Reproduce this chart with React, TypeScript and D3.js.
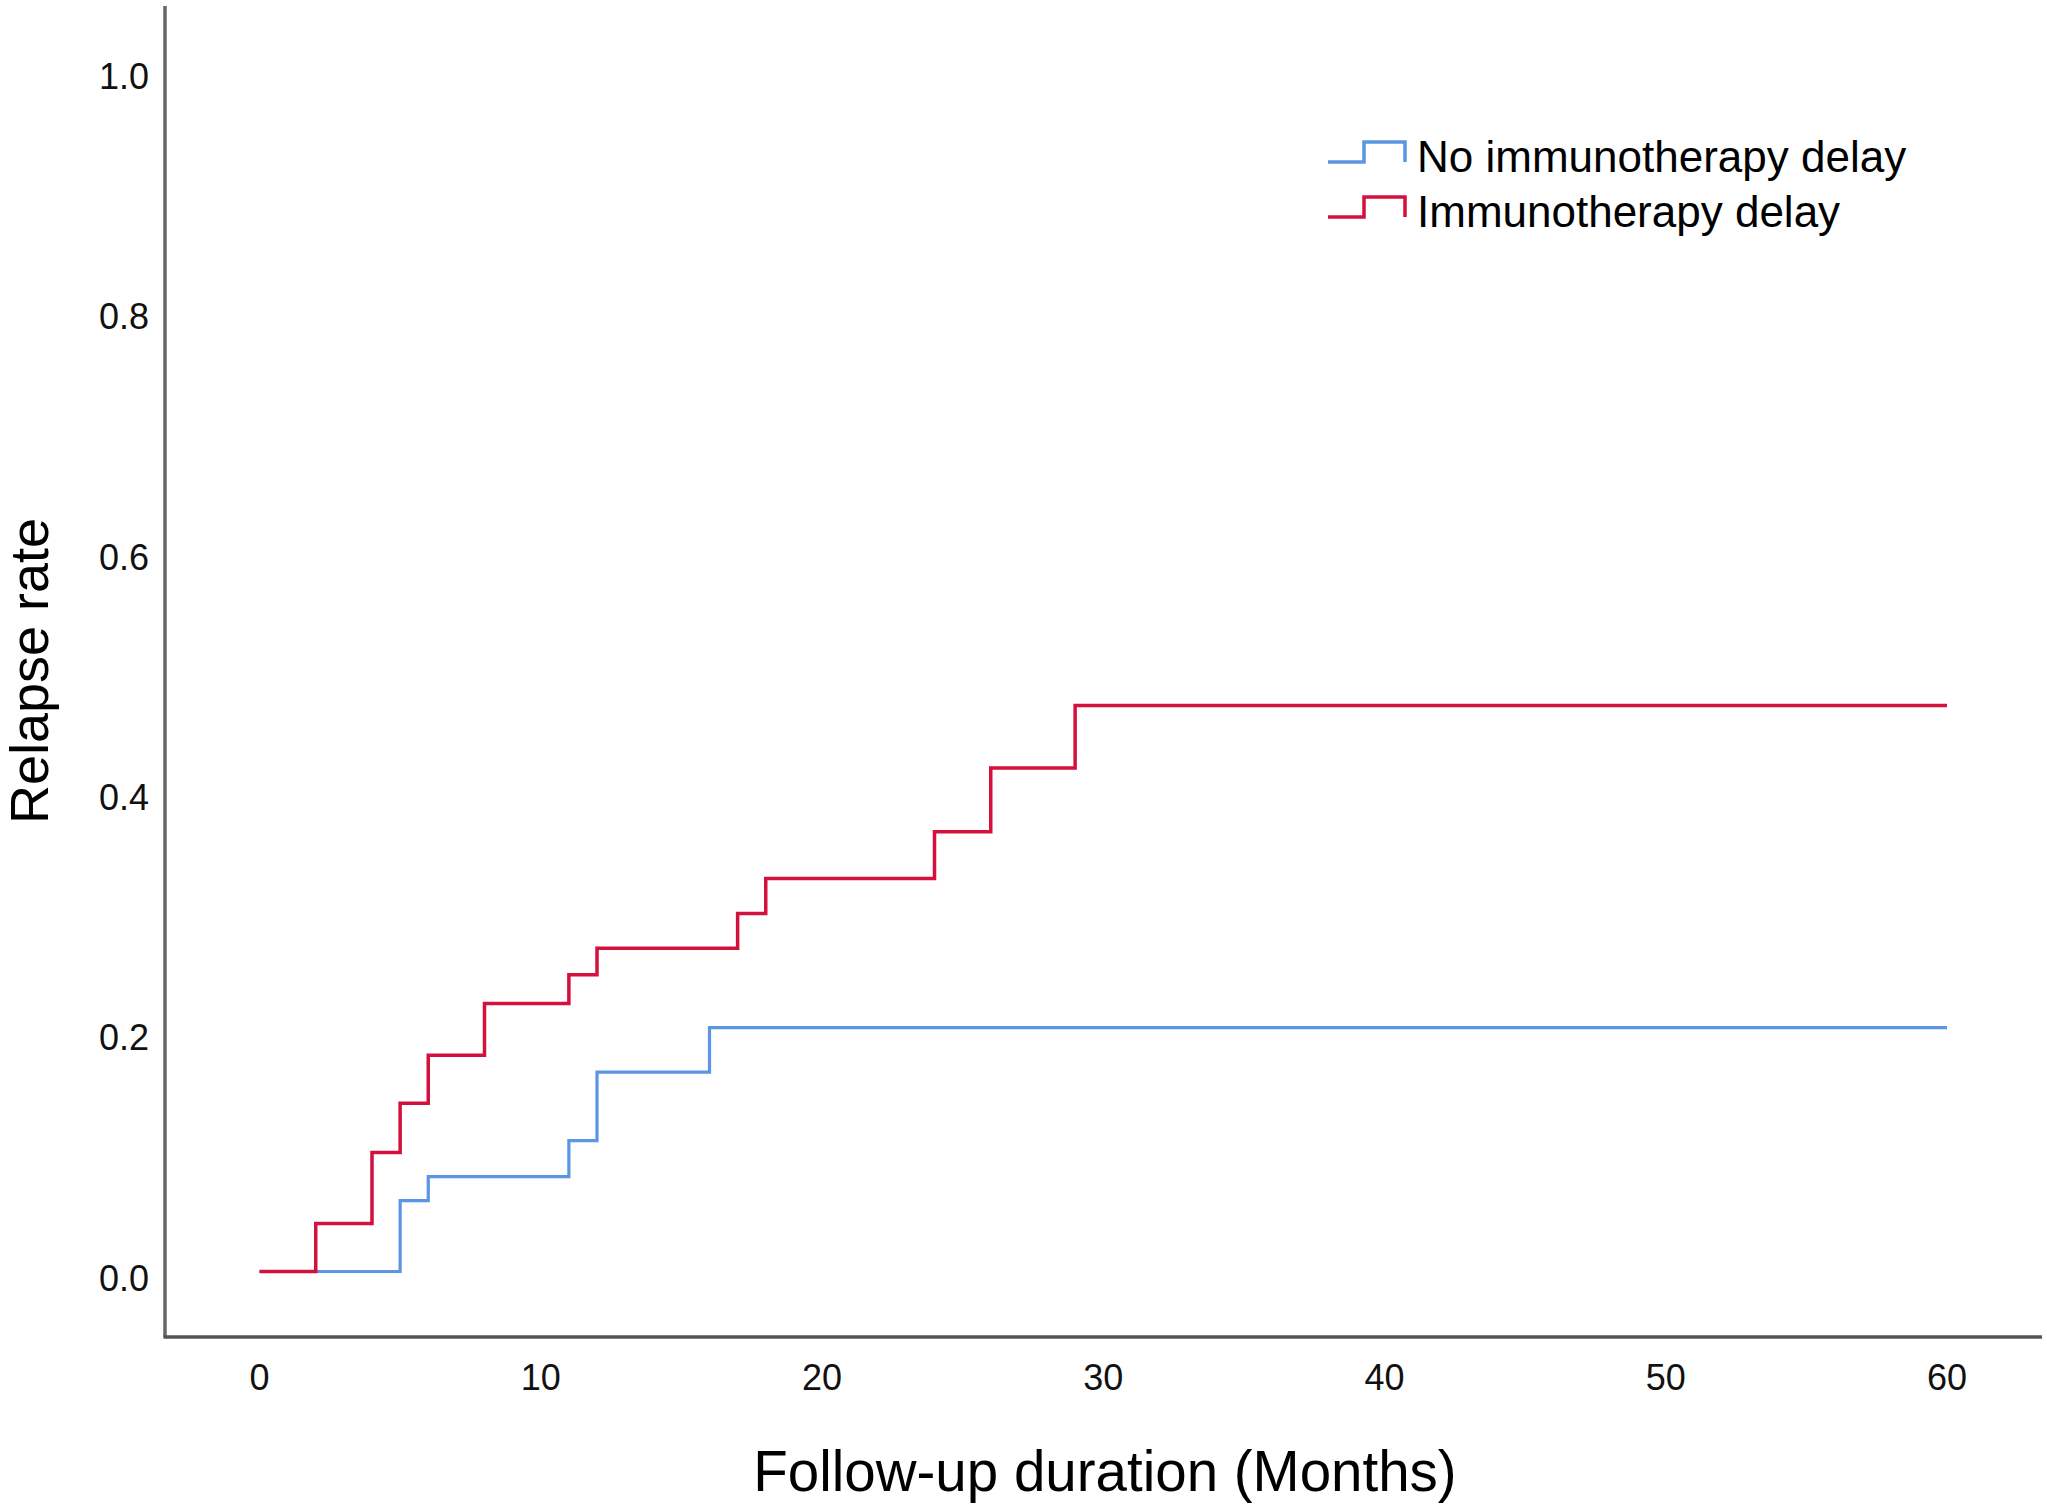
import React from "react";
import * as d3 from "d3";

// step points (months, relapse rate)
const delayMonths = [0, 2, 4, 5, 6, 8, 11, 12, 17, 18, 24, 26, 29, 60];
const delayRates = [0, 0.04, 0.099, 0.14, 0.18, 0.223, 0.247, 0.269, 0.298, 0.327, 0.366, 0.419, 0.471, 0.471];

const noDelayMonths = [0, 5, 6, 11, 12, 16, 60];
const noDelayRates = [0, 0.059, 0.079, 0.109, 0.166, 0.203, 0.203];

const xTicks = [0, 10, 20, 30, 40, 50, 60];
const yTicks = [0, 0.2, 0.4, 0.6, 0.8, 1.0];

const seriesNames = ["No immunotherapy delay", "Immunotherapy delay"];
const seriesColors = ["#5a96e4", "#d4103c"];

const W = 2047;
const H = 1505;
const FONT = "'Liberation Sans', Arial, sans-serif";

export default function App() {
  const x = d3.scaleLinear().domain([0, 60]).range([259.5, 1947]);
  const y = d3.scaleLinear().domain([0, 1]).range([1271.5, 70]);

  const line = d3
    .line<[number, number]>()
    .x(d => x(d[0]))
    .y(d => y(d[1]))
    .curve(d3.curveStepAfter);

  const noDelay = noDelayMonths.map((m, i) => [m, noDelayRates[i]] as [number, number]);
  const delay = delayMonths.map((m, i) => [m, delayRates[i]] as [number, number]);

  const axisLeft = 165;
  const axisBottom = 1337;

  return (
    <svg
      width={W}
      height={H}
      style={{ position: "absolute", left: 0, top: 0, background: "#fff" }}
      fontFamily={FONT}
    >
      <rect width={W} height={H} fill="#fff" />

      {/* axes */}
      <line x1={axisLeft} y1={6} x2={axisLeft} y2={axisBottom} stroke="#666" strokeWidth={3.5} />
      <line x1={axisLeft - 1.5} y1={axisBottom} x2={2042} y2={axisBottom} stroke="#555" strokeWidth={3.5} />

      {/* tick labels */}
      {yTicks.map(t => (
        <text key={"y" + t} x={149} y={y(t) + 19} fontSize={36} textAnchor="end" fill="#111">
          {t.toFixed(1)}
        </text>
      ))}
      {xTicks.map(t => (
        <text key={"x" + t} x={x(t)} y={1390} fontSize={36} textAnchor="middle" fill="#111">
          {t}
        </text>
      ))}

      {/* axis titles */}
      <text x={1105} y={1491} fontSize={56.5} textAnchor="middle" fill="#000">
        Follow-up duration (Months)
      </text>
      <text
        transform={`translate(48, 671) rotate(-90)`}
        fontSize={54}
        textAnchor="middle"
        fill="#000"
      >
        Relapse rate
      </text>

      {/* curves */}
      <path d={line(noDelay) ?? ""} fill="none" stroke={seriesColors[0]} strokeWidth={3.2} />
      <path d={line(delay) ?? ""} fill="none" stroke={seriesColors[1]} strokeWidth={3.5} />

      {/* legend */}
      {seriesNames.map((name, i) => {
        const base = 162 + i * 55;
        return (
          <g key={name}>
            <path
              d={`M1328,${base} H1364 V${base - 20} H1405 V${base}`}
              fill="none"
              stroke={seriesColors[i]}
              strokeWidth={3.5}
            />
            <text x={1417} y={base + 10} fontSize={44} fill="#000">
              {name}
            </text>
          </g>
        );
      })}
    </svg>
  );
}
